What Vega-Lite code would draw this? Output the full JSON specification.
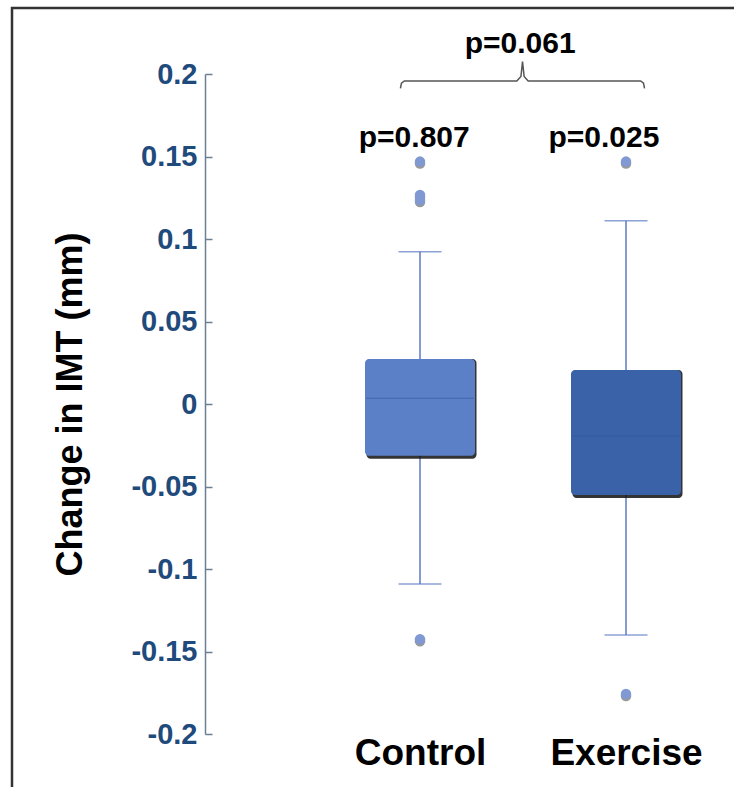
{
  "$schema": "https://vega.github.io/schema/vega-lite/v6.json",
  "width": 728,
  "height": 790,
  "autosize": {"type": "none"},
  "padding": {"left": 12, "top": 8, "right": 0, "bottom": 0},
  "background": "white",
  "config": {
    "view": {"stroke": "#333333", "strokeWidth": 2.5},
    "font": "Liberation Sans"
  },
  "resolve": {"axis": {"y": "independent"}},
  "datasets": {
    "boxes": [
      {"group": "Control", "pos": 1, "lower": -0.1091, "q1": -0.0313, "median": 0.0035, "q3": 0.0273, "upper": 0.0923},
      {"group": "Exercise", "pos": 2, "lower": -0.14, "q1": -0.0552, "median": -0.0194, "q3": 0.0206, "upper": 0.1111}
    ],
    "outliers": [
      {"group": "Control", "pos": 1, "value": 0.1469},
      {"group": "Control", "pos": 1, "value": 0.1267},
      {"group": "Control", "pos": 1, "value": 0.1236},
      {"group": "Control", "pos": 1, "value": -0.1426},
      {"group": "Exercise", "pos": 2, "value": 0.1469},
      {"group": "Exercise", "pos": 2, "value": -0.1758}
    ],
    "brace": [
      {"order": 1, "pos": 0.9050, "value": 0.1913},
      {"order": 2, "pos": 0.9100, "value": 0.1945},
      {"order": 3, "pos": 0.9240, "value": 0.1958},
      {"order": 4, "pos": 1.4700, "value": 0.1958},
      {"order": 5, "pos": 1.4900, "value": 0.1985},
      {"order": 6, "pos": 1.4977, "value": 0.2076},
      {"order": 7, "pos": 1.5055, "value": 0.1985},
      {"order": 8, "pos": 1.5250, "value": 0.1958},
      {"order": 9, "pos": 2.0710, "value": 0.1958},
      {"order": 10, "pos": 2.0850, "value": 0.1945},
      {"order": 11, "pos": 2.0900, "value": 0.1913}
    ],
    "pvals": [
      {"label": "p=0.807", "pos": 0.9720, "value": 0.1559},
      {"label": "p=0.025", "pos": 1.8930, "value": 0.1559},
      {"label": "p=0.061", "pos": 1.4860, "value": 0.2125}
    ]
  },
  "layer": [
    {
      "data": {"name": "boxes"},
      "mark": {"type": "rule", "color": "#5b7bc4", "strokeWidth": 1.5},
      "encoding": {
        "x": {
          "field": "pos", "type": "quantitative",
          "scale": {"domain": [1, 2], "range": [403, 619], "nice": false, "zero": false},
          "axis": {
            "values": [1, 2],
            "labelExpr": "datum.value == 1 ? 'Control' : 'Exercise'",
            "offset": -64,
            "domain": false, "ticks": false, "grid": false,
            "labelFontSize": 37, "labelFontWeight": "bold", "labelColor": "#000000",
            "labelPadding": 1, "labelFlush": false, "labelOverlap": false,
            "title": null
          }
        },
        "y": {
          "field": "lower", "type": "quantitative",
          "scale": {"domain": [-0.2, 0.2], "range": [726, 66], "nice": false, "zero": false},
          "axis": {
            "values": [-0.2, -0.15, -0.1, -0.05, 0, 0.05, 0.1, 0.15, 0.2],
            "labelExpr": "'' + datum.value",
            "offset": -193,
            "grid": false,
            "ticks": false,
            "domainColor": "#6b7f95",
            "domainWidth": 1.5,
            "labelFontSize": 29, "labelFontWeight": "bold", "labelColor": "#1f4a7c",
            "labelPadding": 8, "labelFlush": false, "labelOverlap": false,
            "title": "Change in IMT (mm)",
            "titleFontSize": 36, "titleFontWeight": "bold", "titleColor": "#000000",
            "titlePadding": 41
          }
        },
        "y2": {"field": "upper"}
      }
    },
    {
      "data": {"name": "boxes"},
      "mark": {"type": "tick", "orient": "horizontal", "size": 43, "thickness": 1.5, "color": "#5b7bc4"},
      "encoding": {
        "x": {"field": "pos", "type": "quantitative"},
        "y": {
          "field": "lower", "type": "quantitative",
          "axis": {
            "orient": "right",
            "values": [-0.2, -0.15, -0.1, -0.05, 0, 0.05, 0.1, 0.15, 0.2],
            "offset": -535,
            "grid": false, "domain": false, "labels": false,
            "ticks": true, "tickSize": 7, "tickWidth": 1.5, "tickColor": "#6b7f95",
            "title": null
          }
        }
      }
    },
    {
      "data": {"name": "boxes"},
      "mark": {"type": "tick", "orient": "horizontal", "size": 43, "thickness": 1.5, "color": "#5b7bc4"},
      "encoding": {
        "x": {"field": "pos", "type": "quantitative"},
        "y": {"field": "upper", "type": "quantitative", "axis": null}
      }
    },
    {
      "data": {"name": "boxes"},
      "mark": {"type": "bar", "width": 110, "color": "#111111", "opacity": 0.85, "cornerRadius": 4, "xOffset": 1.5, "yOffset": 3},
      "encoding": {
        "x": {"field": "pos", "type": "quantitative"},
        "y": {"field": "q1", "type": "quantitative", "axis": null},
        "y2": {"field": "q3"}
      }
    },
    {
      "data": {"name": "boxes"},
      "mark": {"type": "bar", "width": 110, "cornerRadius": 4},
      "encoding": {
        "x": {"field": "pos", "type": "quantitative"},
        "y": {"field": "q1", "type": "quantitative", "axis": null},
        "y2": {"field": "q3"},
        "color": {
          "field": "group", "type": "nominal",
          "scale": {"domain": ["Control", "Exercise"], "range": ["#5b80c8", "#3a62a9"]},
          "legend": null
        }
      }
    },
    {
      "data": {"name": "boxes"},
      "mark": {"type": "tick", "orient": "horizontal", "size": 108, "thickness": 1, "color": "#2f5196", "opacity": 0.55},
      "encoding": {
        "x": {"field": "pos", "type": "quantitative"},
        "y": {"field": "median", "type": "quantitative", "axis": null}
      }
    },
    {
      "data": {"name": "outliers"},
      "mark": {"type": "point", "filled": true, "size": 110, "color": "#333333", "opacity": 0.5, "yOffset": 2},
      "encoding": {
        "x": {"field": "pos", "type": "quantitative"},
        "y": {"field": "value", "type": "quantitative", "axis": null}
      }
    },
    {
      "data": {"name": "outliers"},
      "mark": {"type": "point", "filled": true, "size": 110, "color": "#8099d2", "opacity": 1},
      "encoding": {
        "x": {"field": "pos", "type": "quantitative"},
        "y": {"field": "value", "type": "quantitative", "axis": null}
      }
    },
    {
      "data": {"name": "brace"},
      "mark": {"type": "line", "color": "#555555", "strokeWidth": 1.5, "interpolate": "linear"},
      "encoding": {
        "x": {"field": "pos", "type": "quantitative"},
        "y": {"field": "value", "type": "quantitative", "axis": null},
        "order": {"field": "order", "type": "quantitative"}
      }
    },
    {
      "data": {"name": "pvals"},
      "mark": {"type": "text", "fontSize": 30, "fontWeight": "bold", "color": "#000000", "baseline": "alphabetic", "align": "center"},
      "encoding": {
        "x": {"field": "pos", "type": "quantitative"},
        "y": {"field": "value", "type": "quantitative", "axis": null},
        "text": {"field": "label", "type": "nominal"}
      }
    }
  ]
}
